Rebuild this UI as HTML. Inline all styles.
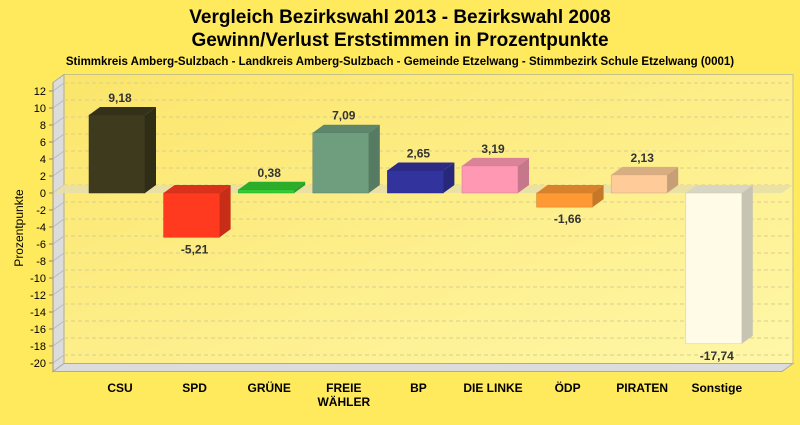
<!DOCTYPE html>
<html><head><meta charset="utf-8"><style>
body{margin:0;width:800px;height:420px;background:#ffe95c;font-family:"Liberation Sans",sans-serif;overflow:hidden}
</style></head><body>
<svg width="800" height="420" xmlns="http://www.w3.org/2000/svg" font-family="Liberation Sans, sans-serif">
<defs><linearGradient id="pg" x1="0" y1="0" x2="1" y2="1"><stop offset="0" stop-color="#fbe56a"/><stop offset="1" stop-color="#fff7a8"/></linearGradient></defs>
<text x="400" y="23" text-anchor="middle" font-size="19" font-weight="bold">Vergleich Bezirkswahl 2013 - Bezirkswahl 2008</text>
<text x="400" y="46" text-anchor="middle" font-size="19" font-weight="bold">Gewinn/Verlust Erststimmen in Prozentpunkte</text>
<text x="400" y="65" text-anchor="middle" font-size="11.5" font-weight="bold">Stimmkreis Amberg-Sulzbach - Landkreis Amberg-Sulzbach - Gemeinde Etzelwang - Stimmbezirk Schule Etzelwang (0001)</text>
<g id="plot"></g>
<text transform="translate(23,228) rotate(-90)" text-anchor="middle" font-size="12">Prozentpunkte</text>
</svg>
<script>
const categories=["CSU","SPD","GRÜNE","FREIE WÄHLER","BP","DIE LINKE","ÖDP","PIRATEN","Sonstige"];
const values=[9.18,-5.21,0.38,7.09,2.65,3.19,-1.66,2.13,-17.74];
const colors=["#3d3a1e","#ff3a1e","#33cc33","#6f9e7e","#33339e","#ff99b3","#ff9933","#ffcc99","#fffbe6"];
const ticks=[12,10,8,6,4,2,0,-2,-4,-6,-8,-10,-12,-14,-16,-18,-20];
const NS="http://www.w3.org/2000/svg";
const g=document.getElementById("plot");
const DX=11,DY=8,X0=53,X1=782;
const y=v=>193-v*8.5;
const cx=i=>117+i*74.6;
function mk(t,a,parent){const e=document.createElementNS(NS,t);for(const k in a)e.setAttribute(k,a[k]);(parent||g).appendChild(e);return e;}
// back wall
let w=mk("rect",{x:X0+DX,y:y(13)-DY,width:X1-X0,height:y(-21)-y(13),fill:"url(#pg)",stroke:"#c8c08a"});


// left wall
let lw=mk("polygon",{points:`${X0},${y(13)} ${X0+DX},${y(13)-DY} ${X0+DX},${y(-21)-DY} ${X0},${y(-21)}`,fill:"#dcdcdc",stroke:"#aaa"});


// floor
let fl=mk("polygon",{points:`${X0},${y(-21)} ${X0+DX},${y(-21)-DY} ${X1+DX},${y(-21)-DY} ${X1},${y(-21)}`,fill:"#dcdcdc",stroke:"#aaa"});


ticks.forEach(t=>{
 let gl=mk("line",{x1:X0+DX,x2:X1+DX,y1:y(t)-DY,y2:y(t)-DY,stroke:"#d8cf90","stroke-dasharray":"4,3"});
 
 
 mk("line",{x1:X0,x2:X0+DX,y1:y(t),y2:y(t)-DY,stroke:"#bbb"});
 mk("line",{x1:X0-4,x2:X0,y1:y(t),y2:y(t),stroke:"#888"});
 let tl=mk("text",{x:X0-7,y:y(t)+4,"text-anchor":"end","font-size":"11"});
 tl.textContent=t;
 
 
});
// zero plane
let zp=mk("polygon",{points:`${X0},${y(0)} ${X0+DX},${y(0)-DY} ${X1+DX},${y(0)-DY} ${X1},${y(0)}`,fill:"#e8dfa8",opacity:"0.9"});


mk("line",{x1:X0,x2:X0,y1:y(13),y2:y(-21),stroke:"#999"});
function shade(c,f){const n=parseInt(c.slice(1),16);let r=n>>16,gg=(n>>8)&255,b=n&255;return `rgb(${Math.round(r*f)},${Math.round(gg*f)},${Math.round(b*f)})`;}
values.forEach((v,i)=>{
 const c=cx(i),x0=c-28,x1=c+28,top=y(Math.max(v,0)),bot=y(Math.min(v,0));
 const grp=mk("g",{});
 
 
 mk("polygon",{points:`${x1},${top} ${x1+DX},${top-DY} ${x1+DX},${bot-DY} ${x1},${bot}`,fill:shade(colors[i],0.78)},grp);
 mk("polygon",{points:`${x0},${top} ${x0+DX},${top-DY} ${x1+DX},${top-DY} ${x1},${top}`,fill:shade(colors[i],0.85)},grp);
 mk("rect",{x:x0,y:top,width:56,height:Math.max(bot-top,0.5),fill:colors[i],stroke:shade(colors[i],0.8),"stroke-width":"0.5"},grp);
 const lab=mk("text",{x:c+3,y:v>=0?top-DY-5:bot+16,"text-anchor":"middle","font-size":"12","font-weight":"bold",fill:"#333"});
 lab.textContent=v.toFixed(2).replace(".",",");
 
 
 const parts=categories[i]==="FREIE WÄHLER"?["FREIE","WÄHLER"]:[categories[i]];
 parts.forEach((p,k)=>{
  const t=mk("text",{x:c+3,y:392+k*14,"text-anchor":"middle","font-size":"12","font-weight":"bold"});
  t.textContent=p;
  
  
 });
});
</script>
</body></html>
